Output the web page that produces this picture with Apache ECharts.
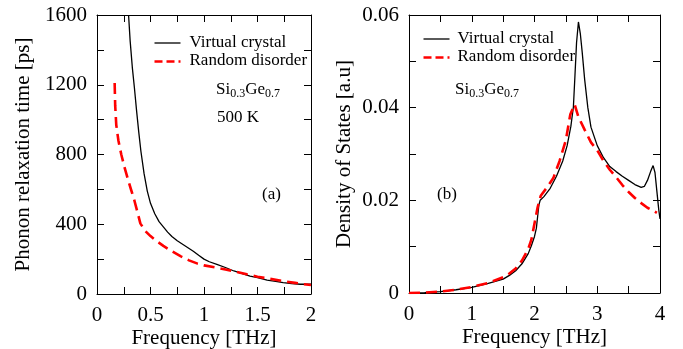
<!DOCTYPE html>
<html>
<head>
<meta charset="utf-8">
<script src="https://cdn.jsdelivr.net/npm/echarts@6/dist/echarts.min.js"></script>
<style>html,body{margin:0;padding:0;background:#fff}#c{width:683px;height:349px}</style>
</head>
<body>
<div id="c"></div>
<script>
// Panel (a): phonon relaxation time vs frequency
var tauVirtual = [[0.295,1600],[0.31,1450],[0.33,1300],[0.35,1180],[0.37,1050],[0.39,930],[0.41,820],[0.44,690],[0.47,590],[0.50,520],[0.54,460],[0.58,415],[0.62,385],[0.66,355],[0.70,330],[0.75,305],[0.80,285],[0.85,265],[0.90,245],[0.95,222],[1.0,200],[1.05,185],[1.12,170],[1.2,152],[1.28,132],[1.35,118],[1.43,103],[1.5,94],[1.59,80],[1.67,72],[1.74,65],[1.82,59],[1.9,56],[2.0,56]];
var tauRandom = [[0.165,1210],[0.17,1080],[0.18,970],[0.2,880],[0.227,800],[0.26,720],[0.29,655],[0.32,595],[0.35,535],[0.38,465],[0.405,405],[0.45,362],[0.5,332],[0.56,302],[0.62,276],[0.7,245],[0.78,217],[0.86,193],[0.94,174],[1.0,164],[1.1,153],[1.2,141],[1.3,128],[1.4,113],[1.5,99],[1.6,89],[1.74,74],[1.85,64],[1.93,56],[2.0,52]];
// Panel (b): density of states vs frequency
var dosVirtual = [[0,0],[0.25,0.0001],[0.5,0.0003],[0.75,0.0007],[1.0,0.0012],[1.25,0.002],[1.5,0.003],[1.6,0.0038],[1.7,0.0048],[1.8,0.0063],[1.9,0.0085],[1.95,0.0102],[2.0,0.0122],[2.03,0.0140],[2.05,0.0165],[2.07,0.019],[2.09,0.0200],[2.15,0.0208],[2.25,0.0226],[2.35,0.0252],[2.45,0.0285],[2.52,0.0318],[2.58,0.036],[2.62,0.0402],[2.645,0.047],[2.67,0.054],[2.70,0.0585],[2.73,0.056],[2.76,0.052],[2.8,0.046],[2.85,0.040],[2.9,0.0358],[3.0,0.0318],[3.1,0.0292],[3.2,0.0273],[3.3,0.0262],[3.4,0.0252],[3.5,0.0243],[3.6,0.0234],[3.7,0.0228],[3.75,0.0230],[3.8,0.0243],[3.85,0.0262],[3.89,0.0275],[3.92,0.026],[3.95,0.022],[3.98,0.018],[4.0,0.016]];
var dosRandom = [[0,0],[0.25,0.0001],[0.5,0.0003],[0.75,0.0007],[1.0,0.0013],[1.25,0.0021],[1.5,0.0034],[1.6,0.0042],[1.7,0.0053],[1.8,0.0070],[1.9,0.0095],[1.95,0.0115],[2.0,0.0150],[2.05,0.0185],[2.1,0.0210],[2.2,0.0228],[2.3,0.0248],[2.4,0.0285],[2.5,0.033],[2.57,0.0385],[2.64,0.0407],[2.7,0.038],[2.8,0.0352],[2.9,0.0325],[3.0,0.0308],[3.1,0.0285],[3.2,0.0266],[3.3,0.0250],[3.4,0.0233],[3.5,0.0218],[3.6,0.0205],[3.7,0.0194],[3.8,0.0184],[3.9,0.0177],[3.95,0.0173]];
var seriesNames = ['Virtual crystal','Random disorder'];

var FONT = 'Liberation Serif';
var chart = echarts.init(document.getElementById('c'));

function axisBase(extra, isY){
  var a = {
    nameMoveOverlap:false,
    axisLine:{show:true,onZero:false,lineStyle:{color:'#000',width:1}},
    axisTick:{show:true,inside:true,length:7,lineStyle:{color:'#000'}},
    minorTick:{show:true,splitNumber:2,length:7,lineStyle:{color:'#000'}},
    splitLine:{show:false},
    axisLabel:{color:'#000',fontFamily:FONT,fontSize:21,margin:isY?10:11,formatter:function(v){return String(+v.toFixed(4));}},
    nameTextStyle:{color:'#000',fontFamily:FONT,fontSize:21}
  };
  for (var k in extra) a[k]=extra[k];
  return a;
}
var noLbl = {show:false};

var option = {
  animation:false,
  backgroundColor:'#fff',
  textStyle:{fontFamily:FONT},
  grid:[
    {left:97,right:372,top:15,bottom:55,containLabel:false,outerBoundsMode:'none'},
    {left:409,right:23,top:15,bottom:56,containLabel:false,outerBoundsMode:'none'}
  ],
  xAxis:[
    axisBase({type:'value',gridIndex:0,position:'bottom',min:0,max:2,interval:0.5,name:'Frequency [THz]',nameLocation:'middle',nameGap:34}),
    axisBase({type:'value',gridIndex:0,position:'top',min:0,max:2,interval:0.5,axisLabel:noLbl}),
    axisBase({type:'value',gridIndex:1,position:'bottom',min:0,max:4,interval:1,name:'Frequency [THz]',nameLocation:'middle',nameGap:34}),
    axisBase({type:'value',gridIndex:1,position:'top',min:0,max:4,interval:1,axisLabel:noLbl})
  ],
  yAxis:[
    axisBase({type:'value',gridIndex:0,position:'left',min:0,max:1600,interval:400,name:'Phonon relaxation time [ps]',nameLocation:'middle',nameGap:63},true),
    axisBase({type:'value',gridIndex:0,position:'right',min:0,max:1600,interval:400,axisLabel:noLbl},true),
    axisBase({type:'value',gridIndex:1,position:'left',min:0,max:0.06,interval:0.02,name:'Density of States [a.u]',nameLocation:'middle',nameGap:54},true),
    axisBase({type:'value',gridIndex:1,position:'right',min:0,max:0.06,interval:0.02,axisLabel:noLbl},true)
  ],
  series:[
    {name:seriesNames[0],type:'line',xAxisIndex:0,yAxisIndex:0,data:tauVirtual,symbol:'none',lineStyle:{color:'#000',width:1.3},itemStyle:{color:'#000'}},
    {name:seriesNames[1],type:'line',xAxisIndex:0,yAxisIndex:0,data:tauRandom,symbol:'none',lineStyle:{color:'#f00',width:2.6,type:[11,6]},itemStyle:{color:'#f00'}},
    {name:seriesNames[0],type:'line',xAxisIndex:2,yAxisIndex:2,data:dosVirtual,symbol:'none',lineStyle:{color:'#000',width:1.3},itemStyle:{color:'#000'}},
    {name:seriesNames[1],type:'line',xAxisIndex:2,yAxisIndex:2,data:dosRandom,symbol:'none',lineStyle:{color:'#f00',width:2.6,type:[11,6]},itemStyle:{color:'#f00'}}
  ],
  graphic:[
    {type:'group',left:152,top:34,children:[
      {type:'line',shape:{x1:0,y1:9,x2:26,y2:9},style:{stroke:'#000',lineWidth:1.3}},
      {type:'line',shape:{x1:0,y1:27.5,x2:26,y2:27.5},style:{stroke:'#f00',lineWidth:2.6,lineDash:[8,4]}},
      {type:'text',left:35,top:0,style:{text:seriesNames[0],fontFamily:FONT,fontSize:17,fill:'#000'}},
      {type:'text',left:35,top:18.5,style:{text:seriesNames[1],fontFamily:FONT,fontSize:17,fill:'#000'}}
    ]},
    {type:'group',left:421,top:30,children:[
      {type:'line',shape:{x1:0,y1:9,x2:26,y2:9},style:{stroke:'#000',lineWidth:1.3}},
      {type:'line',shape:{x1:0,y1:27.5,x2:26,y2:27.5},style:{stroke:'#f00',lineWidth:2.6,lineDash:[8,4]}},
      {type:'text',left:34,top:0,style:{text:seriesNames[0],fontFamily:FONT,fontSize:17,fill:'#000'}},
      {type:'text',left:34,top:18.5,style:{text:seriesNames[1],fontFamily:FONT,fontSize:17,fill:'#000'}}
    ]},
    {type:'text',left:216,top:81,style:{text:'{a|Si}{s|0.3}{a|Ge}{s|0.7}',fontFamily:FONT,rich:{a:{fontFamily:FONT,fontSize:17,fill:'#000'},s:{fontFamily:FONT,fontSize:12,fill:'#000',padding:[9,0,0,0]}}}},
    {type:'text',left:217,top:109,style:{text:'500 K',fontFamily:FONT,fontSize:17,fill:'#000'}},
    {type:'text',left:262,top:186,style:{text:'(a)',fontFamily:FONT,fontSize:17,fill:'#000'}},
    {type:'text',left:455,top:81,style:{text:'{a|Si}{s|0.3}{a|Ge}{s|0.7}',fontFamily:FONT,rich:{a:{fontFamily:FONT,fontSize:17,fill:'#000'},s:{fontFamily:FONT,fontSize:12,fill:'#000',padding:[9,0,0,0]}}}},
    {type:'text',left:437,top:186,style:{text:'(b)',fontFamily:FONT,fontSize:17,fill:'#000'}}
  ]
};
chart.setOption(option);
</script>
</body>
</html>
